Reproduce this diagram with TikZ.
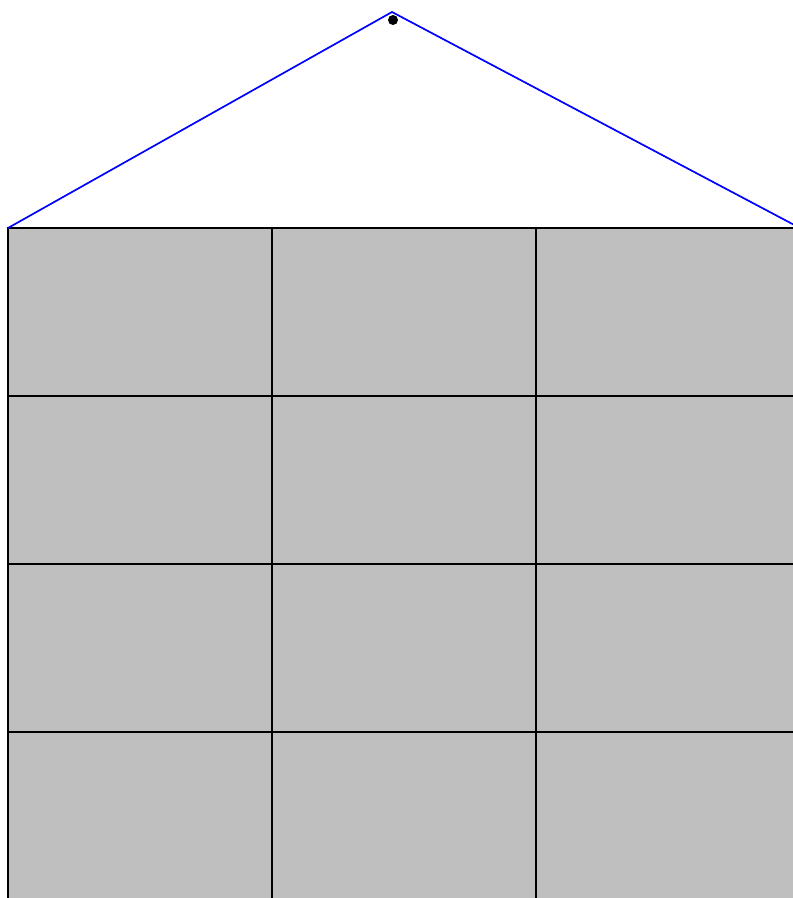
\documentclass[tikz,border=0pt]{standalone}
\begin{document}
\begin{tikzpicture}[x=1pt,y=-1pt,
  cell/.style={fill={rgb,255:red,191;green,191;blue,191},draw=black,line width=1.5pt},
  roof/.style={draw=blue,line width=1.7pt}]
\useasboundingbox (0,0) rectangle (793,898);
\clip (0,0) rectangle (793,898);
\foreach \i in {0,1,2} {
  \foreach \j in {0,1,2,3} {
    \path[cell] ({8+264*\i},{228+168*\j}) rectangle ({8+264*(\i+1)},{228+168*(\j+1)});
  }
}
\coordinate (L) at (8,228);
\coordinate (A) at (392,12);
\coordinate (R) at (800,228);
\draw[roof] (L) -- (A) -- (R);
\fill[black] (393,20) circle (5);
\end{tikzpicture}
\end{document}
